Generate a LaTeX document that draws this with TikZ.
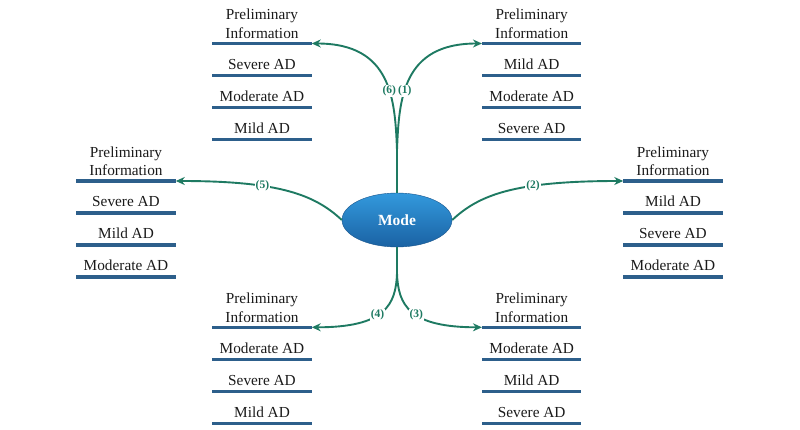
\documentclass[tikz,border=0pt]{standalone}
\usepackage{fontspec}
\setmainfont{Liberation Serif}
\usetikzlibrary{arrows.meta,shapes.geometric}
\definecolor{linkc}{HTML}{1E7A62}
\definecolor{ulc}{HTML}{2D5F8B}
\definecolor{elltop}{HTML}{3399DD}
\definecolor{ellbot}{HTML}{1A62A3}
\definecolor{txtc}{HTML}{1A1A1A}
\begin{document}
\begin{tikzpicture}[x=1pt,y=-1pt,
  ul/.style={rectangle, fill=ulc, minimum width=99.5pt, minimum height=3.6pt, inner sep=0pt, outer sep=0pt},
  item/.style={anchor=base, inner sep=0pt, font=\fontsize{15.3}{18.5}\selectfont, text=txtc},
  ttl/.style={align=center, inner sep=0pt, font=\fontsize{15.3}{18.5}\selectfont, text=txtc},
  link/.style={draw=linkc, line width=1.9pt, -{Stealth[length=9pt,width=8pt]}},
  lbl/.style={fill=white, inner sep=0.8pt, text=linkc, font=\fontsize{11.5}{11.5}\selectfont\bfseries},
]
\useasboundingbox (0,0) rectangle (800,430);

\node[ellipse, minimum width=110pt, minimum height=54pt, inner sep=0pt,
  top color=elltop, bottom color=ellbot, draw=ellbot!85!black, line width=0.4pt,
  font=\fontsize{15.5}{18}\selectfont\bfseries, text=white] (mode) at (397,220) {Mode};

\foreach \g/\cx/\y/\a/\b/\c in {
  tl/262/43.5/Severe AD/Moderate AD/Mild AD,
  tr/531.7/43.5/Mild AD/Moderate AD/Severe AD,
  l/126/181/Severe AD/Mild AD/Moderate AD,
  r/673/181/Mild AD/Severe AD/Moderate AD,
  bl/262/327.3/Moderate AD/Severe AD/Mild AD,
  br/531.7/327.3/Moderate AD/Mild AD/Severe AD}{
  \node[ul] (\g0) at (\cx,\y) {};
  \node[ttl] (\g-t) at (\cx,\y-19.5) {Preliminary\\Information};
  \node[ul] (\g1) at (\cx,\y+32) {};
  \node[item] (\g-a) at (\cx,\y+26) {\a};
  \node[ul] (\g2) at (\cx,\y+64) {};
  \node[item] (\g-b) at (\cx,\y+58) {\b};
  \node[ul] (\g3) at (\cx,\y+96) {};
  \node[item] (\g-c) at (\cx,\y+90) {\c};
}

\coordinate (topsplit) at (397,150);
\coordinate (botsplit) at (397,273);

\draw[link] (mode.north) -- (topsplit) .. controls (395,100) and (392,43.5) .. (tl0.east) node[lbl,pos=0.4] {(6)};
\draw[link] (mode.north) -- (topsplit) .. controls (399,100) and (402,43.5) .. (tr0.west) node[lbl,pos=0.4] {(1)};
\draw[link] (mode.west) .. controls (315,195) and (280,181) .. (l0.east) node[lbl,pos=0.65] {(5)};
\draw[link] (mode.east) .. controls (479,195) and (514,181) .. (r0.west) node[lbl,pos=0.65] {(2)};
\draw[link] (mode.south) -- (botsplit) .. controls (396,305) and (385,327.3) .. (bl0.east) node[lbl,pos=0.55] {(4)};
\draw[link] (mode.south) -- (botsplit) .. controls (398,305) and (409,327.3) .. (br0.west) node[lbl,pos=0.55] {(3)};
\end{tikzpicture}
\end{document}
